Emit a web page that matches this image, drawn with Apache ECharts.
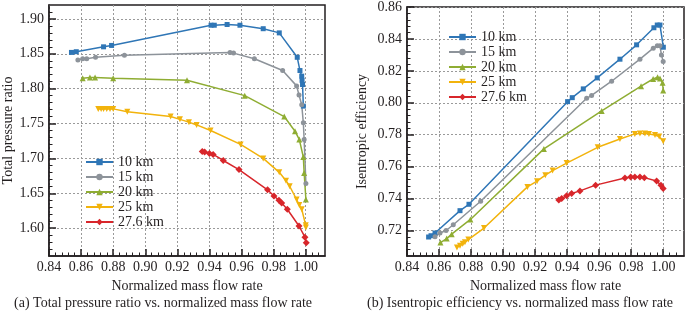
<!DOCTYPE html>
<html><head><meta charset="utf-8">
<script src="https://cdn.jsdelivr.net/npm/echarts@6/dist/echarts.min.js"></script>
<style>html,body{margin:0;padding:0;background:#fff}#c{width:685px;height:311px}</style>
</head><body><div id="c"></div>
<script>
// ---------- data ----------
const seriesNames = ['10 km', '15 km', '20 km', '25 km', '27.6 km'];

// (a) Total pressure ratio vs normalized mass flow rate
const pr10 = [[0.854,1.852],[0.857,1.853],[0.874,1.860],[0.879,1.862],[0.941,1.891],[0.943,1.891],[0.951,1.892],[0.959,1.891],[0.9735,1.886],[0.9835,1.880],[0.9947,1.845],[0.9964,1.826],[0.9975,1.818],[0.9977,1.812],[0.998,1.806],[0.9985,1.775]];
const pr15 = [[0.858,1.841],[0.861,1.843],[0.8635,1.843],[0.869,1.845],[0.887,1.848],[0.9528,1.852],[0.955,1.851],[0.968,1.843],[0.9856,1.826],[0.9943,1.804],[0.9958,1.791],[0.9975,1.777],[0.9985,1.751],[0.999,1.727],[1.0001,1.664]];
const pr20 = [[0.861,1.815],[0.8655,1.816],[0.8687,1.816],[0.880,1.815],[0.926,1.812],[0.962,1.790],[0.9866,1.760],[0.9933,1.739],[0.996,1.727],[0.9985,1.702],[0.999,1.679],[1.0001,1.641]];
const pr25 = [[0.8707,1.771],[0.8725,1.771],[0.874,1.771],[0.876,1.771],[0.878,1.771],[0.880,1.771],[0.8888,1.767],[0.9158,1.760],[0.9216,1.756],[0.9272,1.752],[0.932,1.748],[0.9407,1.740],[0.9594,1.720],[0.9735,1.700],[0.9835,1.680],[0.9877,1.668],[0.990,1.660],[0.9943,1.641],[0.996,1.633],[0.9975,1.627],[1.0,1.604],[1.0001,1.601]];
const pr276 = [[0.9355,1.710],[0.937,1.709],[0.940,1.707],[0.9423,1.7057],[0.9486,1.697],[0.9584,1.684],[0.9762,1.655],[0.9802,1.646],[0.9833,1.640],[0.985,1.636],[0.9885,1.627],[0.9958,1.603],[0.9995,1.587],[1.0003,1.579]];

// (b) Isentropic efficiency vs normalized mass flow rate
const ef10 = [[0.8535,0.7159],[0.855,0.7167],[0.8575,0.7184],[0.8731,0.7324],[0.8787,0.7364],[0.9403,0.8007],[0.9432,0.8032],[0.9501,0.8087],[0.9588,0.8156],[0.973,0.8273],[0.9834,0.8363],[0.9942,0.847],[0.9963,0.8487],[0.998,0.8487],[1.0001,0.8348]];
const ef15 = [[0.8575,0.716],[0.8606,0.7184],[0.8644,0.7200],[0.8689,0.7236],[0.886,0.7383],[0.9522,0.8028],[0.9553,0.8046],[0.9678,0.8135],[0.9855,0.8273],[0.9938,0.8342],[0.9963,0.8357],[0.998,0.8357],[0.9989,0.830],[1.0,0.8259]];
const ef20 = [[0.8609,0.7124],[0.8648,0.7149],[0.8679,0.7177],[0.8796,0.7269],[0.9255,0.7711],[0.9616,0.7949],[0.9862,0.8104],[0.9937,0.8149],[0.9965,0.816],[0.998,0.8152],[0.9996,0.8125],[1.0,0.8077]];
const ef25 = [[0.8712,0.7094],[0.8731,0.7105],[0.8748,0.7116],[0.8762,0.7126],[0.8783,0.7143],[0.8881,0.7215],[0.9152,0.7473],[0.9212,0.7509],[0.9264,0.7546],[0.9309,0.7575],[0.9397,0.7622],[0.9591,0.7721],[0.973,0.7773],[0.9823,0.7805],[0.9855,0.7808],[0.9886,0.7808],[0.9911,0.7805],[0.9949,0.7798],[0.9975,0.7788],[1.0,0.7759]];
const ef276 = [[0.9348,0.7391],[0.9366,0.7401],[0.9397,0.7417],[0.9428,0.7432],[0.948,0.7448],[0.9578,0.7484],[0.9761,0.7529],[0.9797,0.7535],[0.9823,0.7535],[0.9855,0.7535],[0.9882,0.7531],[0.9959,0.751],[0.9986,0.7484],[1.0,0.7463]];

// tick labels
const xTicks = [0.84,0.86,0.88,0.90,0.92,0.94,0.96,0.98,1.00];
const xMinor = [0.844,0.848,0.852,0.856,0.864,0.868,0.872,0.876,0.884,0.888,0.892,0.896,0.904,0.908,0.912,0.916,0.924,0.928,0.932,0.936,0.944,0.948,0.952,0.956,0.964,0.968,0.972,0.976,0.984,0.988,0.992,0.996,1.004,1.008];
const prTicks = [1.60,1.65,1.70,1.75,1.80,1.85,1.90];
const prMinor = [1.57,1.58,1.59,1.61,1.62,1.63,1.64,1.66,1.67,1.68,1.69,1.71,1.72,1.73,1.74,1.76,1.77,1.78,1.79,1.81,1.82,1.83,1.84,1.86,1.87,1.88,1.89,1.91];
const efTicks = [0.72,0.74,0.76,0.78,0.80,0.82,0.84,0.86];
const efMinor = [0.708,0.712,0.716,0.724,0.728,0.732,0.736,0.744,0.748,0.752,0.756,0.764,0.768,0.772,0.776,0.784,0.788,0.792,0.796,0.804,0.808,0.812,0.816,0.824,0.828,0.832,0.836,0.844,0.848,0.852,0.856];

const captionA = '(a) Total pressure ratio vs. normalized mass flow rate';
const captionB = '(b) Isentropic efficiency vs. normalized mass flow rate';

// ---------- styling ----------
const FONT = '"Liberation Serif", "DejaVu Serif", serif';
const INK = '#231f20';
const colors = ['#2f76b6', '#8d939a', '#8fad33', '#f2b30c', '#d8262b'];
const symbols = ['rect', 'circle', 'triangle', 'triangle', 'diamond'];
const symRot = [0, 0, 0, 180, 0];
const symSize = [5, 5, 6, 6, 7];

function mainX(grid, max, name) {
  return {
    type: 'value', gridIndex: grid, min: 0.84, max: max, position: 'bottom',
    name: name, nameLocation: 'middle', nameGap: 21,
    nameTextStyle: { fontFamily: FONT, fontSize: 14, color: INK },
    axisLine: { show: true, onZero: false, lineStyle: { color: INK, width: 1.5 } },
    axisTick: { show: true, inside: true, length: 7, customValues: xTicks, lineStyle: { color: INK, width: 1.5 } },
    axisLabel: { customValues: xTicks, formatter: v => v.toFixed(2), margin: 4, fontFamily: FONT, fontSize: 14, color: INK },
    splitLine: { show: true, lineStyle: { color: '#9a9a9a', width: 1, type: [2, 2] } }
  };
}
function minorX(grid, max) {
  return {
    type: 'value', gridIndex: grid, min: 0.84, max: max, position: 'bottom',
    axisLine: { show: false, onZero: false },
    axisTick: { show: true, inside: true, length: 3.5, customValues: xMinor, lineStyle: { color: INK, width: 1 } },
    axisLabel: { show: false }, splitLine: { show: false }
  };
}
function mainY(grid, min, max, ticks, digits, name, gap) {
  return {
    type: 'value', gridIndex: grid, min: min, max: max, position: 'left',
    name: name, nameLocation: 'middle', nameGap: gap,
    nameTextStyle: { fontFamily: FONT, fontSize: 14, color: INK },
    axisLine: { show: true, onZero: false, lineStyle: { color: INK, width: 1.5 } },
    axisTick: { show: true, inside: true, length: 7, customValues: ticks, lineStyle: { color: INK, width: 1.5 } },
    axisLabel: { customValues: ticks, formatter: v => v.toFixed(digits), margin: 5, fontFamily: FONT, fontSize: 14, color: INK },
    splitLine: { show: true, lineStyle: { color: '#9a9a9a', width: 1, type: [2, 2] } }
  };
}
function minorY(grid, min, max, ticks) {
  return {
    type: 'value', gridIndex: grid, min: min, max: max, position: 'left',
    axisLine: { show: false, onZero: false },
    axisTick: { show: true, inside: true, length: 3.5, customValues: ticks, lineStyle: { color: INK, width: 1 } },
    axisLabel: { show: false }, splitLine: { show: false }
  };
}
function mk(i, data, axisIdx) {
  return {
    type: 'line', name: seriesNames[i], data: data,
    xAxisIndex: axisIdx, yAxisIndex: axisIdx,
    symbol: symbols[i], symbolRotate: symRot[i], symbolSize: symSize[i],
    showAllSymbol: true,
    lineStyle: { color: colors[i], width: 1.5 },
    itemStyle: { color: colors[i] },
    emphasis: { disabled: true }, animation: false, z: 3
  };
}

const chart = echarts.init(document.getElementById('c'), null, { renderer: 'canvas' });
const legendBase = {
  orient: 'vertical', itemWidth: 27, itemHeight: 8, itemGap: 1,
  textStyle: { fontFamily: FONT, fontSize: 14, color: INK, padding: [0, 0, 0, 0] },
  data: seriesNames, selectedMode: false
};
chart.setOption({
  animation: false,
  textStyle: { fontFamily: FONT },
  grid: [
    { left: 49, top: 5, width: 276, height: 251, show: true, borderColor: INK, borderWidth: 1.5, backgroundColor: 'transparent' },
    { left: 407, top: 5, width: 277, height: 251, show: true, borderColor: INK, borderWidth: 1.5, backgroundColor: 'transparent' }
  ],
  xAxis: [
    mainX(0, 1.012, 'Normalized mass flow rate'), minorX(0, 1.012),
    mainX(1, 1.013, 'Normalized mass flow rate'), minorX(1, 1.013)
  ],
  yAxis: [
    mainY(0, 1.56, 1.92, prTicks, 2, 'Total pressure ratio', 34), minorY(0, 1.56, 1.92, prMinor),
    mainY(1, 0.704, 0.86, efTicks, 2, 'Isentropic efficiency', 38), minorY(1, 0.704, 0.86, efMinor)
  ],
  legend: [
    Object.assign({}, legendBase, { left: 80, top: 150 }),
    Object.assign({}, legendBase, { left: 443, top: 25 })
  ],
  series: [
    mk(0, pr10, 0), mk(1, pr15, 0), mk(2, pr20, 0), mk(3, pr25, 0), mk(4, pr276, 0),
    mk(0, ef10, 2), mk(1, ef15, 2), mk(2, ef20, 2), mk(3, ef25, 2), mk(4, ef276, 2)
  ],
  graphic: [
    { type: 'text', x: 163, y: 303, style: { text: captionA, font: '14px ' + FONT, fill: INK, align: 'center', verticalAlign: 'middle' } },
    { type: 'text', x: 520, y: 303, style: { text: captionB, font: '14px ' + FONT, fill: INK, align: 'center', verticalAlign: 'middle' } }
  ]
});
</script>
</body></html>
